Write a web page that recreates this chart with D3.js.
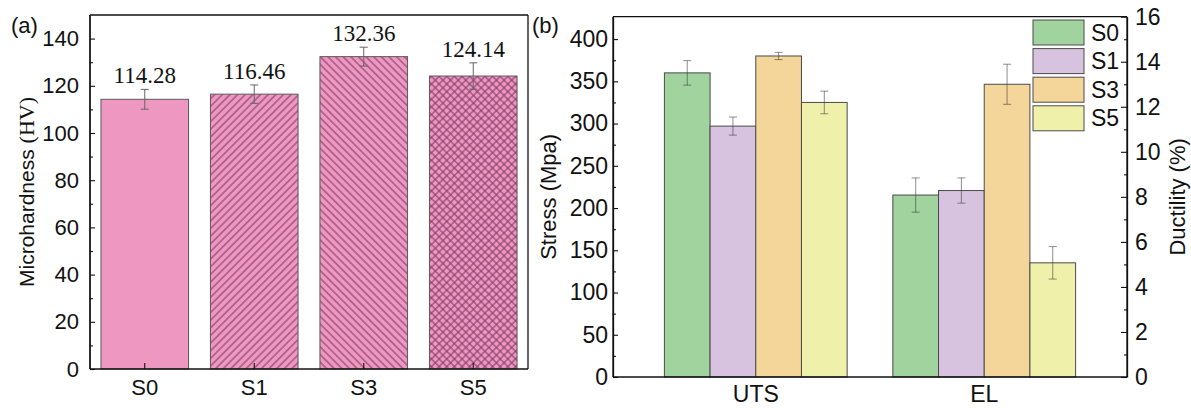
<!DOCTYPE html>
<html>
<head>
<meta charset="utf-8">
<script src="https://cdn.jsdelivr.net/npm/d3@7"></script>
<style>
  html, body { margin: 0; padding: 0; background: #fff; }
  svg { display: block; }
  text { fill: #111; }
</style>
</head>
<body>
<svg id="chart" width="1191" height="408"></svg>
<script>
// ---- Panel (a): microhardness ----
const hardCats = ["S0", "S1", "S3", "S5"];
const hardVals = [114.28, 116.46, 132.36, 124.14];
const hardErr = [4.2, 3.9, 4.0, 5.6];
const hardTicks = [0, 20, 40, 60, 80, 100, 120, 140];

// ---- Panel (b): tensile properties ----
const groups = ["UTS", "EL"];
const samples = ["S0", "S1", "S3", "S5"];
const utsVals = [360, 297, 380, 325];
const utsErr = [14.5, 10.7, 4.3, 13.4];
const elVals = [8.08, 8.28, 13.0, 5.07];
const elErr = [0.76, 0.56, 0.89, 0.72];
const stressTicks = [0, 50, 100, 150, 200, 250, 300, 350, 400];
const ductTicks = [0, 2, 4, 6, 8, 10, 12, 14, 16];

const sampleColors = ["#A1D39F", "#D7C3DF", "#F5D69A", "#EFF1AA"];
const pink = "#EE97C1";
const hatchInk = "#7d3962";

const svg = d3.select("#chart");
const sans = "'Liberation Sans', Arial, sans-serif";
const serif = "'Liberation Serif', 'Times New Roman', serif";

// hatch patterns for panel (a)
const defs = svg.append("defs");
function hatch(id, angle, cross) {
  const p = defs.append("pattern")
    .attr("id", id)
    .attr("patternUnits", "userSpaceOnUse")
    .attr("width", 5.4).attr("height", 5.4)
    .attr("patternTransform", `rotate(${angle})`);
  p.append("rect").attr("width", 5.4).attr("height", 5.4).attr("fill", pink);
  p.append("line").attr("x1", 0).attr("x2", 5.4).attr("y1", 2.7).attr("y2", 2.7)
    .attr("stroke", hatchInk).attr("stroke-width", 1);
  if (cross) {
    p.append("line").attr("x1", 2.7).attr("x2", 2.7).attr("y1", 0).attr("y2", 5.4)
      .attr("stroke", hatchInk).attr("stroke-width", 1);
  }
}
hatch("hatchFwd", -45, false);
hatch("hatchBack", 45, false);
hatch("hatchCross", 45, true);
const hardFills = [pink, "url(#hatchFwd)", "url(#hatchBack)", "url(#hatchCross)"];

function styleAxis(g, size) {
  g.selectAll("path.domain").attr("stroke", "#111").attr("stroke-width", 1.3);
  g.selectAll(".tick line").attr("stroke", "#111").attr("stroke-width", 1.1);
  g.selectAll(".tick text").attr("font-family", sans).attr("font-size", size).attr("fill", "#111");
}
function minors(ticks) {
  const out = [];
  for (let i = 0; i < ticks.length - 1; i++) out.push((ticks[i] + ticks[i + 1]) / 2);
  return out;
}

// ================= Panel (a) =================
{
  const L = 90, R = 528, T = 15, B = 369;
  const x = d3.scaleBand().domain(hardCats).range([L, R]).paddingInner(0.2).paddingOuter(0.1);
  const y = d3.scaleLinear().domain([0, 150]).range([B, T]);
  const g = svg.append("g");

  // bars
  g.selectAll("rect.bar").data(hardVals).join("rect")
    .attr("class", "bar")
    .attr("x", (d, i) => x(hardCats[i]))
    .attr("width", x.bandwidth())
    .attr("y", d => y(d))
    .attr("height", d => B - y(d))
    .attr("fill", (d, i) => hardFills[i])
    .attr("stroke", "#5a5a5a").attr("stroke-width", 1);

  // error bars and value labels
  hardVals.forEach((v, i) => {
    const cx = x(hardCats[i]) + x.bandwidth() / 2;
    const e = hardErr[i];
    const eg = g.append("g").attr("stroke", "#666").attr("stroke-width", 1);
    eg.append("line").attr("x1", cx).attr("x2", cx).attr("y1", y(v + e)).attr("y2", y(v - e));
    eg.append("line").attr("x1", cx - 4).attr("x2", cx + 4).attr("y1", y(v + e)).attr("y2", y(v + e));
    eg.append("line").attr("x1", cx - 4).attr("x2", cx + 4).attr("y1", y(v - e)).attr("y2", y(v - e));
    g.append("text").attr("x", cx).attr("y", y(v + e) - 6)
      .attr("text-anchor", "middle").attr("font-family", serif).attr("font-size", 23)
      .text(v.toFixed(2));
  });

  // frame
  g.append("line").attr("x1", L).attr("x2", R).attr("y1", T).attr("y2", T).attr("stroke", "#111").attr("stroke-width", 1.3);
  g.append("line").attr("x1", R).attr("x2", R).attr("y1", T).attr("y2", B).attr("stroke", "#111").attr("stroke-width", 1.3);

  // axes
  const ya = g.append("g").attr("transform", `translate(${L},0)`)
    .call(d3.axisLeft(y).tickValues(hardTicks).tickSize(-5).tickPadding(11).tickSizeOuter(0));
  styleAxis(ya, 22);
  ya.select("path.domain").attr("d", `M0,${T}V${B}`);
  const ym = g.append("g").attr("transform", `translate(${L},0)`)
    .call(d3.axisLeft(y).tickValues(minors(hardTicks)).tickSize(-3).tickFormat("").tickSizeOuter(0));
  styleAxis(ym, 22);
  ym.select("path.domain").attr("d", `M0,${T}V${B}`);

  const xa = g.append("g").attr("transform", `translate(0,${B})`)
    .call(d3.axisBottom(x).tickSize(-6).tickPadding(10).tickSizeOuter(0));
  styleAxis(xa, 22);
  xa.select("path.domain").attr("d", `M${L},0H${R}`);

  // axis title with serif unit
  const t = g.append("text")
    .attr("transform", `translate(34,${(T + B) / 2}) rotate(-90)`)
    .attr("text-anchor", "middle").attr("font-size", 21);
  t.append("tspan").attr("font-family", sans).text("Microhardness ");
  t.append("tspan").attr("font-family", serif).attr("font-size", 22).text("(HV)");

  g.append("text").attr("x", 11).attr("y", 33).attr("font-family", sans).attr("font-size", 22).text("(a)");
}

// ================= Panel (b) =================
{
  const L = 613, R = 1127, T = 16.7, B = 377;
  const x0 = d3.scaleBand().domain(groups).range([L, R]).paddingInner(0.2).paddingOuter(0.225);
  const x1 = d3.scaleBand().domain(samples).range([0, x0.bandwidth()]);
  const yL = d3.scaleLinear().domain([0, 426.5]).range([B, T]);
  const yR = d3.scaleLinear().domain([0, 16]).range([B, T]);
  const g = svg.append("g");

  const sets = [
    { grp: "UTS", vals: utsVals, err: utsErr, y: yL },
    { grp: "EL", vals: elVals, err: elErr, y: yR }
  ];
  sets.forEach(s => {
    s.vals.forEach((v, i) => {
      const bx = x0(s.grp) + x1(samples[i]);
      g.append("rect")
        .attr("x", bx).attr("width", x1.bandwidth())
        .attr("y", s.y(v)).attr("height", B - s.y(v))
        .attr("fill", sampleColors[i])
        .attr("stroke", "#4a4a4a").attr("stroke-width", 1);
    });
    s.vals.forEach((v, i) => {
      const cx = x0(s.grp) + x1(samples[i]) + x1.bandwidth() / 2;
      const e = s.err[i];
      const eg = g.append("g").attr("stroke", "#333").attr("stroke-opacity", 0.55).attr("stroke-width", 1);
      eg.append("line").attr("x1", cx).attr("x2", cx).attr("y1", s.y(v + e)).attr("y2", s.y(v - e));
      eg.append("line").attr("x1", cx - 4).attr("x2", cx + 4).attr("y1", s.y(v + e)).attr("y2", s.y(v + e));
      eg.append("line").attr("x1", cx - 4).attr("x2", cx + 4).attr("y1", s.y(v - e)).attr("y2", s.y(v - e));
    });
  });

  // top frame
  g.append("line").attr("x1", L).attr("x2", R).attr("y1", T).attr("y2", T).attr("stroke", "#111").attr("stroke-width", 1.3);

  // left axis
  const la = g.append("g").attr("transform", `translate(${L},0)`)
    .call(d3.axisLeft(yL).tickValues(stressTicks).tickSize(-5).tickPadding(5).tickSizeOuter(0));
  styleAxis(la, 23);
  la.select("path.domain").attr("d", `M0,${T}V${B}`);
  const lm = g.append("g").attr("transform", `translate(${L},0)`)
    .call(d3.axisLeft(yL).tickValues(minors(stressTicks)).tickSize(-3).tickFormat("").tickSizeOuter(0));
  styleAxis(lm, 23);

  // right axis
  const ra = g.append("g").attr("transform", `translate(${R},0)`)
    .call(d3.axisRight(yR).tickValues(ductTicks).tickSize(-6).tickPadding(8).tickSizeOuter(0));
  styleAxis(ra, 23);
  ra.select("path.domain").attr("d", `M0,${T}V${B}`);
  const rm = g.append("g").attr("transform", `translate(${R},0)`)
    .call(d3.axisRight(yR).tickValues(minors(ductTicks)).tickSize(-3).tickFormat("").tickSizeOuter(0));
  styleAxis(rm, 23);

  // bottom axis
  const ba = g.append("g").attr("transform", `translate(0,${B})`)
    .call(d3.axisBottom(x0).tickSize(0).tickPadding(9).tickSizeOuter(0));
  styleAxis(ba, 23);
  ba.select("path.domain").attr("d", `M${L},0H${R}`);

  // titles
  g.append("text").attr("transform", `translate(556,${(T + B) / 2}) rotate(-90)`)
    .attr("text-anchor", "middle").attr("font-family", sans).attr("font-size", 22).text("Stress (Mpa)");
  g.append("text").attr("transform", `translate(1185,${(T + B) / 2}) rotate(-90)`)
    .attr("text-anchor", "middle").attr("font-family", sans).attr("font-size", 22).text("Ductility (%)");
  g.append("text").attr("x", 532).attr("y", 33).attr("font-family", sans).attr("font-size", 22).text("(b)");

  // legend
  const lg = g.append("g").attr("transform", "translate(1033,20)");
  samples.forEach((s, i) => {
    const row = lg.append("g").attr("transform", `translate(0,${i * 28.6})`);
    row.append("rect").attr("width", 51).attr("height", 25)
      .attr("fill", sampleColors[i]).attr("stroke", "#4a4a4a").attr("stroke-width", 1);
    row.append("text").attr("x", 58).attr("y", 20.5)
      .attr("font-family", sans).attr("font-size", 23).text(s);
  });
}
</script>
</body>
</html>
